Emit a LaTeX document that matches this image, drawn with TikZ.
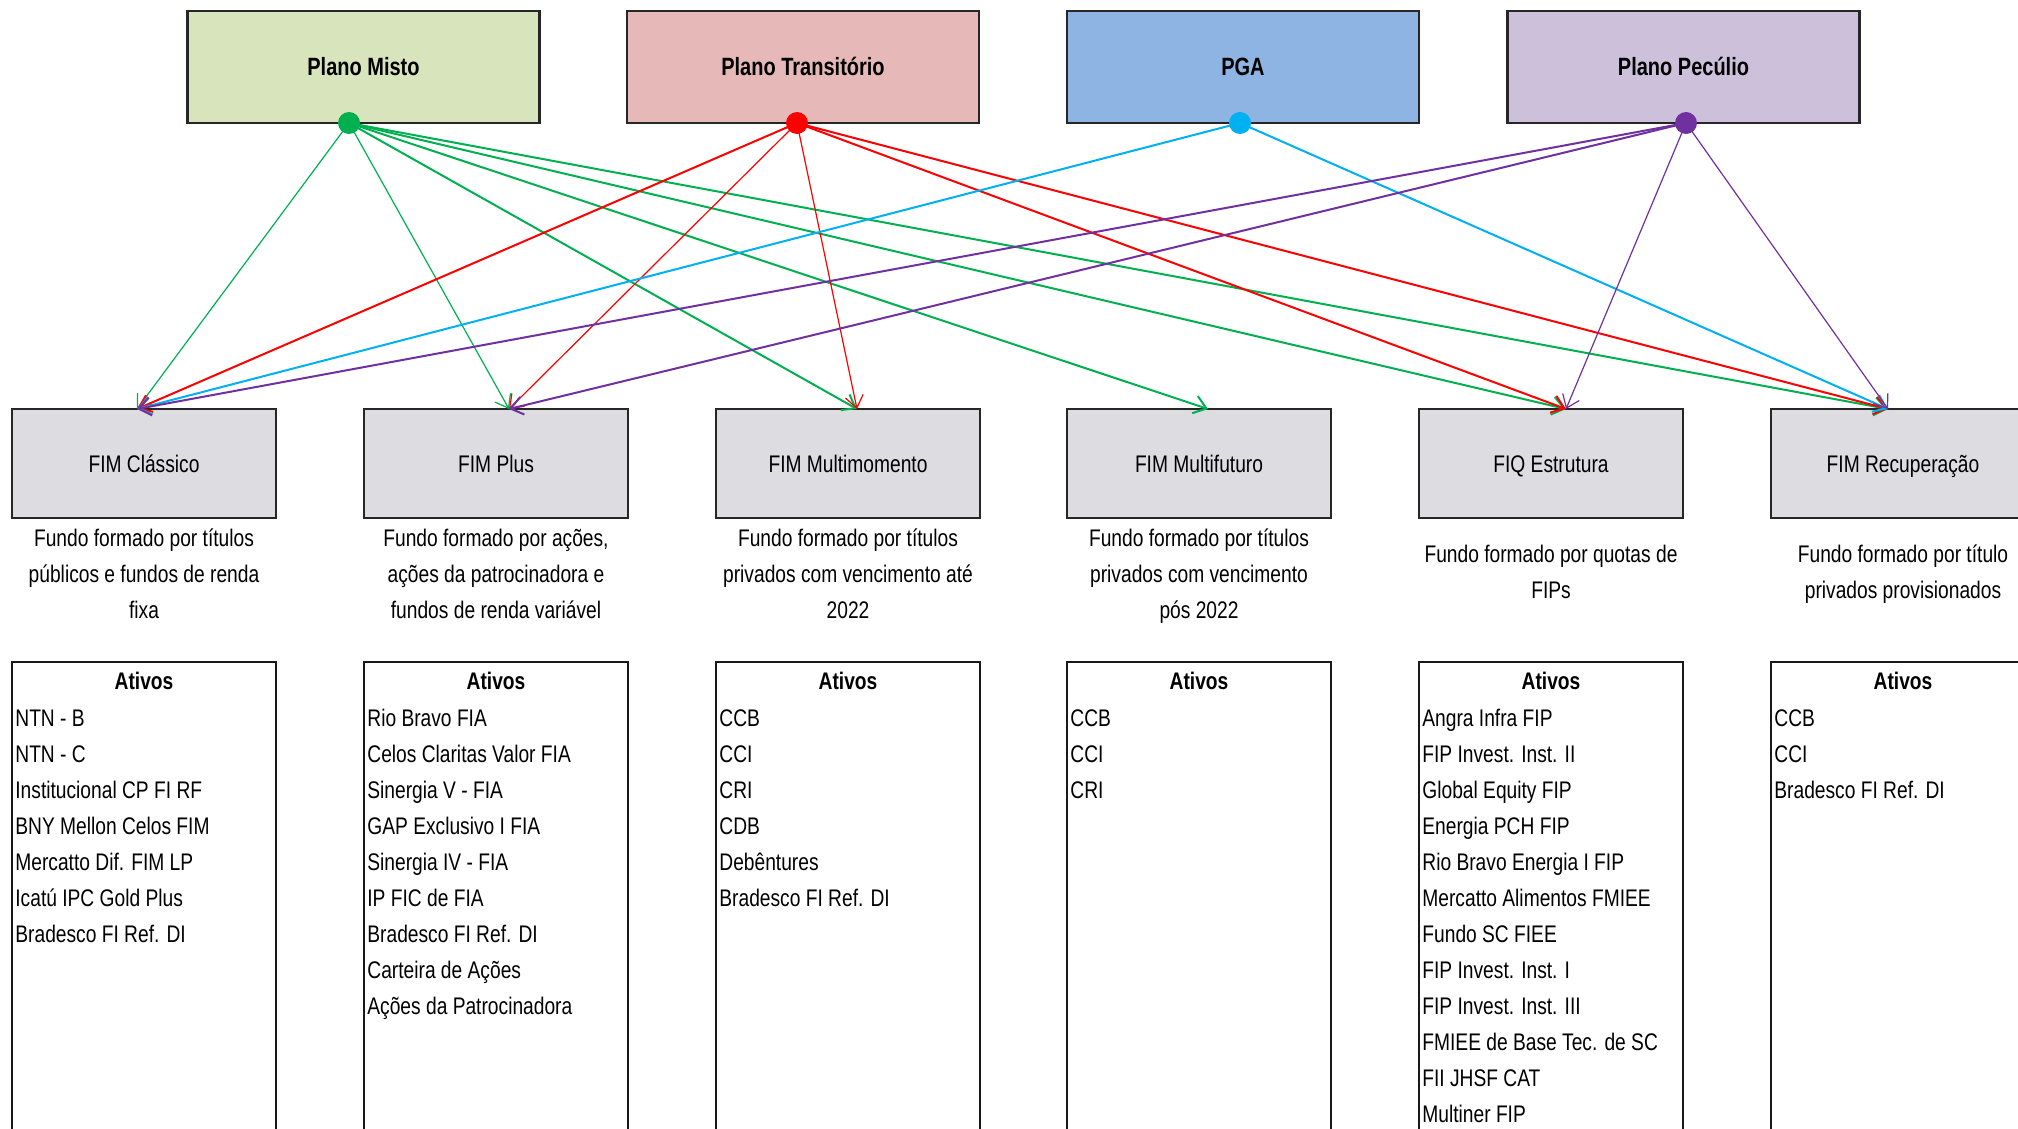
\documentclass[tikz,border=0pt]{standalone}
\usepackage{fontspec}
\setmainfont{Liberation Sans}[FakeStretch=0.8]
\usetikzlibrary{arrows.meta,calc}
\definecolor{cmisto}{HTML}{D8E4BC}
\definecolor{ctrans}{HTML}{E6B9B8}
\definecolor{cpga}{HTML}{8DB4E2}
\definecolor{cpec}{HTML}{CCC0DA}
\definecolor{cfund}{HTML}{DDDCE0}
\definecolor{lgreen}{HTML}{00B050}
\definecolor{lred}{HTML}{FF0000}
\definecolor{lblue}{HTML}{00B0F0}
\definecolor{lpurple}{HTML}{7030A0}
\begin{document}
\begin{tikzpicture}[x=0.5pt,y=-0.5pt,
 plano/.style={draw=black!85, line width=1.2pt, minimum width=176pt, minimum height=56pt, inner sep=0pt, outer sep=0pt, text height=9.2pt, text depth=0.4pt, font=\fontsize{12.5}{15}\selectfont\bfseries},
 fundo/.style={draw=black!85, line width=1pt, fill=cfund, minimum width=132pt, minimum height=54.5pt, inner sep=0pt, outer sep=0pt, text height=8.8pt, text depth=0.3pt, font=\fontsize{12}{14}\selectfont},
 ativbox/.style={draw=black!90, line width=0.8pt, fill=white, minimum width=132pt, minimum height=240pt, inner sep=0pt, outer sep=0pt, anchor=north west},
 desc/.style={align=center, font=\fontsize{12}{18}\selectfont, inner sep=0pt, anchor=base},
 head/.style={font=\fontsize{12}{14}\selectfont\bfseries, inner sep=0pt, text height=8.8pt, text depth=0pt},
 item/.style={font=\fontsize{12}{14}\selectfont, inner sep=0pt, anchor=base west},
 pdot/.style={circle, inner sep=0pt, minimum size=11pt},
 conn/.style={line width=1pt, -{Straight Barb[length=6pt,width=9pt]}},
 fine/.style={line width=0.6pt}
]
\useasboundingbox (0,0) rectangle (2018,1129);
\clip (0,0) rectangle (2018,1129);

% top plan boxes
\node[plano, fill=cmisto] (pm)  at (363.5,67) {Plano Misto};
\node[plano, fill=ctrans] (pt)  at (803,67)   {Plano Transitório};
\node[plano, fill=cpga]   (pga) at (1243,67)  {PGA};
\node[plano, fill=cpec]   (pp)  at (1683.5,67){Plano Pecúlio};

% fund boxes
\node[fundo] (f1) at (144,463.5)  {FIM Clássico};
\node[fundo] (f2) at (496,463.5)  {FIM Plus};
\node[fundo] (f3) at (848,463.5)  {FIM Multimomento};
\node[fundo] (f4) at (1199,463.5) {FIM Multifuturo};
\node[fundo] (f5) at (1551,463.5) {FIQ Estrutura};
\node[fundo] (f6) at (1903,463.5) {FIM Recuperação};

% descriptions (anchored on the baseline of the last line)
\node[desc] (d1) at (144,618)  {Fundo formado por títulos\\públicos e fundos de renda\\fixa};
\node[desc] (d2) at (496,618)  {Fundo formado por ações,\\ações da patrocinadora e\\fundos de renda variável};
\node[desc] (d3) at (848,618)  {Fundo formado por títulos\\privados com vencimento até\\2022};
\node[desc] (d4) at (1199,618) {Fundo formado por títulos\\privados com vencimento\\pós 2022};
\node[desc] (d5) at (1551,598) {Fundo formado por quotas de\\FIPs};
\node[desc] (d6) at (1903,598) {Fundo formado por título\\privados provisionados};

% asset boxes
\node[ativbox] (a1) at (12,662)   {};
\node[ativbox] (a2) at (364,662)  {};
\node[ativbox] (a3) at (716,662)  {};
\node[ativbox] (a4) at (1067,662) {};
\node[ativbox] (a5) at (1419,662) {};
\node[ativbox] (a6) at (1771,662) {};
\foreach \c [count=\k] in {144,496,848,1199,1551,1903}
  \node[head] (h\k) at (\c,681) {Ativos};

\foreach \t [count=\i] in {NTN - B,NTN - C,Institucional CP FI RF,BNY Mellon Celos FIM,Mercatto Dif. FIM LP,Icatú IPC Gold Plus,Bradesco FI Ref. DI}
  \node[item] (ia\i) at (15,{726+36*(\i-1)}) {\t};
\foreach \t [count=\i] in {Rio Bravo FIA,Celos Claritas Valor FIA,Sinergia V - FIA,GAP Exclusivo I FIA,Sinergia IV - FIA,IP FIC de FIA,Bradesco FI Ref. DI,Carteira de Ações,Ações da Patrocinadora}
  \node[item] (ib\i) at (367,{726+36*(\i-1)}) {\t};
\foreach \t [count=\i] in {CCB,CCI,CRI,CDB,Debêntures,Bradesco FI Ref. DI}
  \node[item] (ic\i) at (719,{726+36*(\i-1)}) {\t};
\foreach \t [count=\i] in {CCB,CCI,CRI}
  \node[item] (id\i) at (1070,{726+36*(\i-1)}) {\t};
\foreach \t [count=\i] in {Angra Infra FIP,FIP Invest. Inst. II,Global Equity FIP,Energia PCH FIP,Rio Bravo Energia I FIP,Mercatto Alimentos FMIEE,Fundo SC FIEE,FIP Invest. Inst. I,FIP Invest. Inst. III,FMIEE de Base Tec. de SC,FII JHSF CAT,Multiner FIP}
  \node[item] (ie\i) at (1422,{726+36*(\i-1)}) {\t};
\foreach \t [count=\i] in {CCB,CCI,Bradesco FI Ref. DI}
  \node[item] (if\i) at (1774,{726+36*(\i-1)}) {\t};

% connector end points on the fund boxes
\coordinate (in1) at ([xshift=-3.5pt]f1.north);
\coordinate (in2) at ([xshift=6.5pt]f2.north);
\coordinate (in3) at ([xshift=4.5pt]f3.north);
\coordinate (in4) at ([xshift=4.5pt]f4.north);
\coordinate (in5) at ([xshift=7.5pt]f5.north);
\coordinate (in6) at ([xshift=-7.5pt]f6.north);

% dots
\coordinate (pmd)  at (349,123);
\coordinate (ptd)  at (797,123);
\coordinate (pgad) at (1240,123);
\coordinate (ppd)  at (1686,123);

% connectors
\draw[conn, lgreen, fine] (pmd) -- (in1);
\draw[conn, lgreen, fine] (pmd) -- (in2);
\draw[conn, lgreen] (pmd) -- (in3);
\draw[conn, lgreen] (pmd) -- (in4);
\draw[conn, lgreen] (pmd) -- (in5);
\draw[conn, lgreen] (pmd) -- (in6);

\draw[conn, lred] (ptd) -- (in1);
\draw[conn, lred, fine] (ptd) -- (in2);
\draw[conn, lred, fine] (ptd) -- (in3);
\draw[conn, lred] (ptd) -- (in5);
\draw[conn, lred] (ptd) -- (in6);

\draw[conn, lblue] (pgad) -- (in1);
\draw[conn, lblue] (pgad) -- (in6);

\draw[conn, lpurple] (ppd) -- (in1);
\draw[conn, lpurple] (ppd) -- (in2);
\draw[conn, lpurple, fine] (ppd) -- (in5);
\draw[conn, lpurple, fine] (ppd) -- (in6);

\node[pdot, fill=lgreen]  (pmdot)  at (pmd)  {};
\node[pdot, fill=lred]    (ptdot)  at (ptd)  {};
\node[pdot, fill=lblue]   (pgadot) at (pgad) {};
\node[pdot, fill=lpurple] (ppdot)  at (ppd)  {};
\end{tikzpicture}
\end{document}
